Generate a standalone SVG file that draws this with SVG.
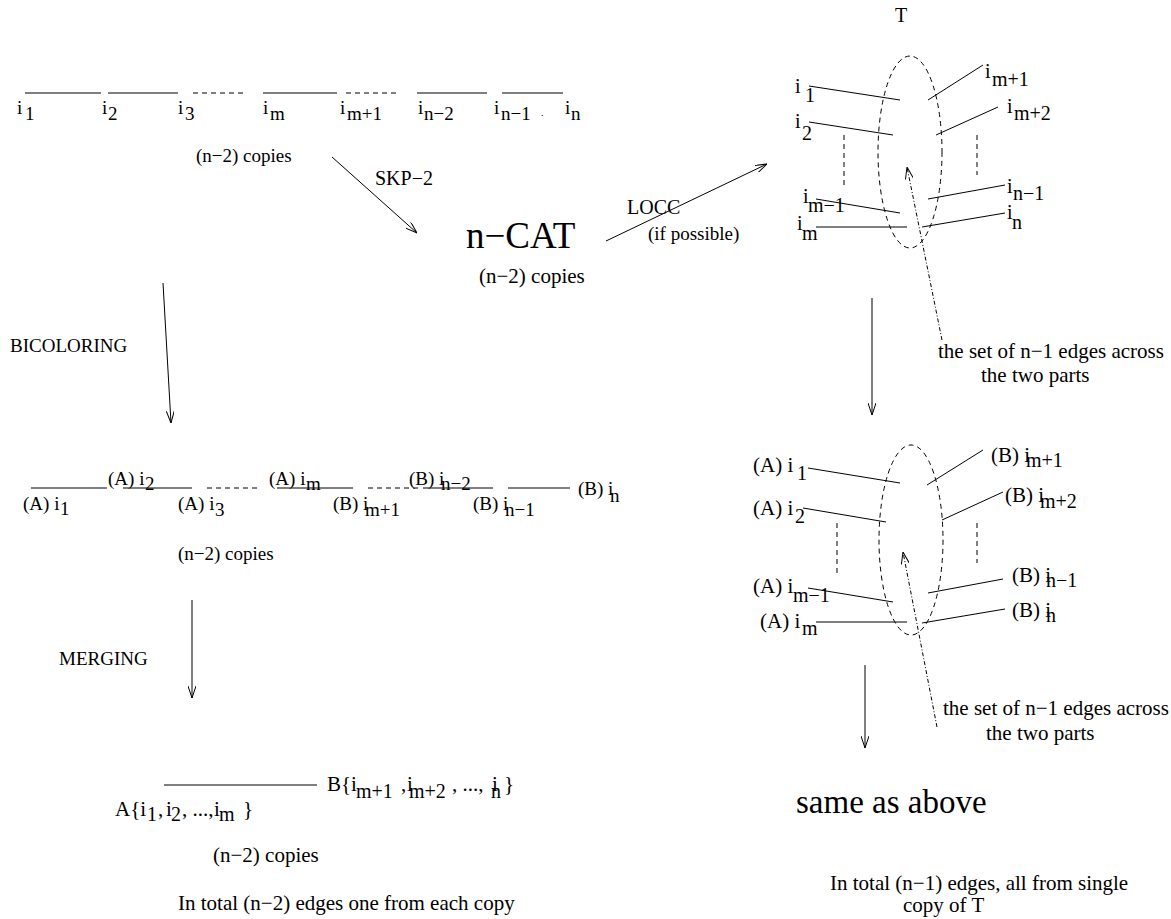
<svg xmlns="http://www.w3.org/2000/svg" width="1171" height="919" viewBox="0 0 1171 919" font-family="'Liberation Serif','Times New Roman',serif">
<defs>
<marker id="arr" viewBox="0 0 12 8" refX="12" refY="4" markerWidth="12" markerHeight="8" orient="auto" markerUnits="userSpaceOnUse"><path d="M0,0 L12,4 L0,8" fill="none" stroke="#000" stroke-width="1"/></marker>
<style>
text{font-family:"Liberation Serif","Times New Roman",serif;fill:#000}
.t19{font-size:19px}.t20{font-size:20px}.t21{font-size:21px}
.big{font-size:37px}.same{font-size:33px}
line,ellipse{stroke:#000;stroke-width:1;fill:none}
.dash{stroke-dasharray:5,4}
.dot{stroke-dasharray:4,2,1,2}
</style>
</defs>
<rect width="1171" height="919" fill="#fff"/>

<g id="chain1">
<line x1="25" y1="93" x2="101" y2="93"/><line x1="108" y1="93" x2="178" y2="93"/>
<line class="dash" x1="193" y1="93" x2="243" y2="93"/>
<line x1="263" y1="93" x2="337" y2="93"/>
<line class="dash" x1="346" y1="93" x2="397" y2="93"/>
<line x1="417" y1="93" x2="487" y2="93"/><line x1="502" y1="93" x2="563" y2="93"/>
<g class="t19">
<text x="17" y="114">i</text><text x="25" y="120">1</text>
<text x="102" y="114">i</text><text x="108" y="120">2</text>
<text x="178" y="114">i</text><text x="185" y="120">3</text>
<text x="263" y="114">i</text><text x="270" y="120">m</text>
<text x="340" y="114">i</text><text x="347" y="120">m+1</text>
<text x="418" y="114">i</text><text x="424" y="120">n−2</text>
<text x="494" y="114">i</text><text x="501" y="120">n−1</text>
<text x="541" y="116" style="font-size:10px">.</text>
<text x="565" y="114">i</text><text x="571" y="120">n</text>
<text x="196" y="162">(n−2) copies</text>
</g>
</g>

<g id="ncat">
<text class="big" x="466" y="248">n−CAT</text>
<text class="t21" x="479" y="283">(n−2) copies</text>
</g>

<g id="tree-top">
<text class="t20" x="895" y="22">T</text>
<ellipse class="dash" cx="910" cy="152" rx="32" ry="96"/>
<line x1="809" y1="86" x2="900" y2="100"/>
<line x1="809" y1="122" x2="893" y2="135"/>
<line x1="816" y1="199" x2="900" y2="213"/>
<line x1="816" y1="227" x2="907" y2="227"/>
<line x1="928" y1="100" x2="983" y2="65"/>
<line x1="936" y1="135" x2="998" y2="107"/>
<line x1="928" y1="199" x2="1005" y2="185"/>
<line x1="922" y1="227" x2="1005" y2="213"/>
<line class="dash" x1="844" y1="135" x2="844" y2="187"/>
<line class="dash" x1="977" y1="135" x2="977" y2="175"/>
<g class="t20">
<text x="795" y="93">i</text><text x="805" y="102">1</text>
<text x="795" y="128">i</text><text x="802" y="140">2</text>
<text x="803" y="203">i</text><text x="808" y="212">m−1</text>
<text x="797" y="230">i</text><text x="802" y="240">m</text>
<text x="985" y="78">i</text><text x="992" y="86">m+1</text>
<text x="1007" y="113">i</text><text x="1014" y="120">m+2</text>
<text x="1007" y="193">i</text><text x="1013" y="200">n−1</text>
<text x="1007" y="219">i</text><text x="1012" y="229">n</text>
</g>
<g class="t21">
<text x="938" y="358">the set of n−1 edges across</text>
<text x="981" y="382">the two parts</text>
</g>
</g>

<g id="bicolor">
<text class="t19" x="10" y="352">BICOLORING</text>
<line x1="31" y1="488" x2="107" y2="488"/><line x1="123" y1="488" x2="192" y2="488"/>
<line class="dash" x1="207" y1="488" x2="257" y2="488"/>
<line x1="277" y1="488" x2="353" y2="488"/>
<line class="dash" x1="368" y1="488" x2="422" y2="488"/>
<line x1="423" y1="488" x2="493" y2="488"/><line x1="508" y1="488" x2="570" y2="488"/>
<g class="t19">
<text x="23" y="510">(A) i</text><text x="60" y="515">1</text>
<text x="108" y="485">(A) i</text><text x="145" y="490">2</text>
<text x="178" y="510">(A) i</text><text x="215" y="516">3</text>
<text x="269" y="485">(A) i</text><text x="306" y="490">m</text>
<text x="333" y="510">(B) i</text><text x="365" y="516">m+1</text>
<text x="409" y="485">(B) i</text><text x="441" y="490">n−2</text>
<text x="473" y="510">(B) i</text><text x="505" y="516">n−1</text>
<text x="578" y="495">(B) i</text><text x="610" y="502">n</text>
<text x="178" y="560">(n−2) copies</text>
</g>
</g>

<g id="tree-bottom">
<ellipse class="dash" cx="911" cy="540" rx="32" ry="95"/>
<line x1="808" y1="468" x2="900" y2="483"/>
<line x1="803" y1="508" x2="886" y2="522"/>
<line x1="808" y1="588" x2="893" y2="602"/>
<line x1="816" y1="622" x2="907" y2="622"/>
<line x1="927" y1="485" x2="983" y2="450"/>
<line x1="942" y1="520" x2="1003" y2="492"/>
<line x1="928" y1="593" x2="1003" y2="579"/>
<line x1="922" y1="623" x2="1005" y2="609"/>
<line class="dash" x1="837" y1="523" x2="837" y2="574"/>
<line class="dash" x1="977" y1="523" x2="977" y2="563"/>
<g class="t21">
<text x="753" y="472">(A) i</text><text x="797" y="480" class="t20">1</text>
<text x="753" y="515">(A) i</text><text x="795" y="523" class="t20">2</text>
<text x="753" y="593">(A) i</text><text x="793" y="602" class="t20">m−1</text>
<text x="760" y="628">(A) i</text><text x="802" y="635" class="t20">m</text>
<text x="991" y="462">(B) i</text><text x="1026" y="467" class="t20">m+1</text>
<text x="1005" y="502">(B) i</text><text x="1040" y="508" class="t20">m+2</text>
<text x="1012" y="582">(B) i</text><text x="1046" y="587" class="t20">n−1</text>
<text x="1012" y="617">(B) i</text><text x="1046" y="622" class="t20">n</text>
<text x="943" y="715">the set of n−1 edges across</text>
<text x="986" y="740">the two parts</text>
</g>
</g>

<g id="merge">
<text class="t19" x="59" y="665">MERGING</text>
<line x1="164" y1="785" x2="317" y2="785"/>
<g class="t21">
<text x="115" y="816">A{i</text><text x="147" y="821" class="t20">1</text>
<text x="158" y="816">,</text><text x="166" y="816">i</text><text x="171" y="821" class="t20">2</text>
<text x="182" y="816">, ...,</text><text x="214" y="816">i</text><text x="219" y="821" class="t20">m</text>
<text x="243" y="816">}</text>
<text x="327" y="791">B{i</text><text x="356" y="798" class="t20">m+1</text>
<text x="401" y="791">,</text><text x="407" y="791">i</text><text x="409" y="798" class="t20">m+2</text>
<text x="452" y="791">, ...,</text><text x="492" y="791">i</text><text x="491" y="798" class="t20">n</text>
<text x="504" y="791">}</text>
<text x="213" y="862">(n−2) copies</text>
<text x="178" y="910">In total (n−2) edges one from each copy</text>
</g>
</g>

<g id="result">
<text class="same" x="796" y="813">same as above</text>
<text class="t21" x="830" y="890">In total (n−1) edges, all from single</text>
<text class="t21" x="903" y="912">copy of T</text>
</g>

<g id="labels">
<text class="t20" x="375" y="185">SKP−2</text>
<text class="t20" x="627" y="214">LOCC</text>
<text class="t19" x="648" y="240">(if possible)</text>
</g>

<g id="connectors">
<line x1="332" y1="157" x2="417" y2="233" marker-end="url(#arr)"/>
<line x1="606" y1="241" x2="767" y2="164" marker-end="url(#arr)"/>
<line x1="163" y1="283" x2="171" y2="423" marker-end="url(#arr)"/>
<line x1="192" y1="600" x2="192" y2="698" marker-end="url(#arr)"/>
<line x1="872" y1="298" x2="872" y2="415" marker-end="url(#arr)"/>
<line x1="865" y1="665" x2="865" y2="748" marker-end="url(#arr)"/>
<line class="dot" x1="942" y1="340" x2="907" y2="167" marker-end="url(#arr)"/>
<line class="dot" x1="937" y1="727" x2="903" y2="552" marker-end="url(#arr)"/>
</g>
</svg>
